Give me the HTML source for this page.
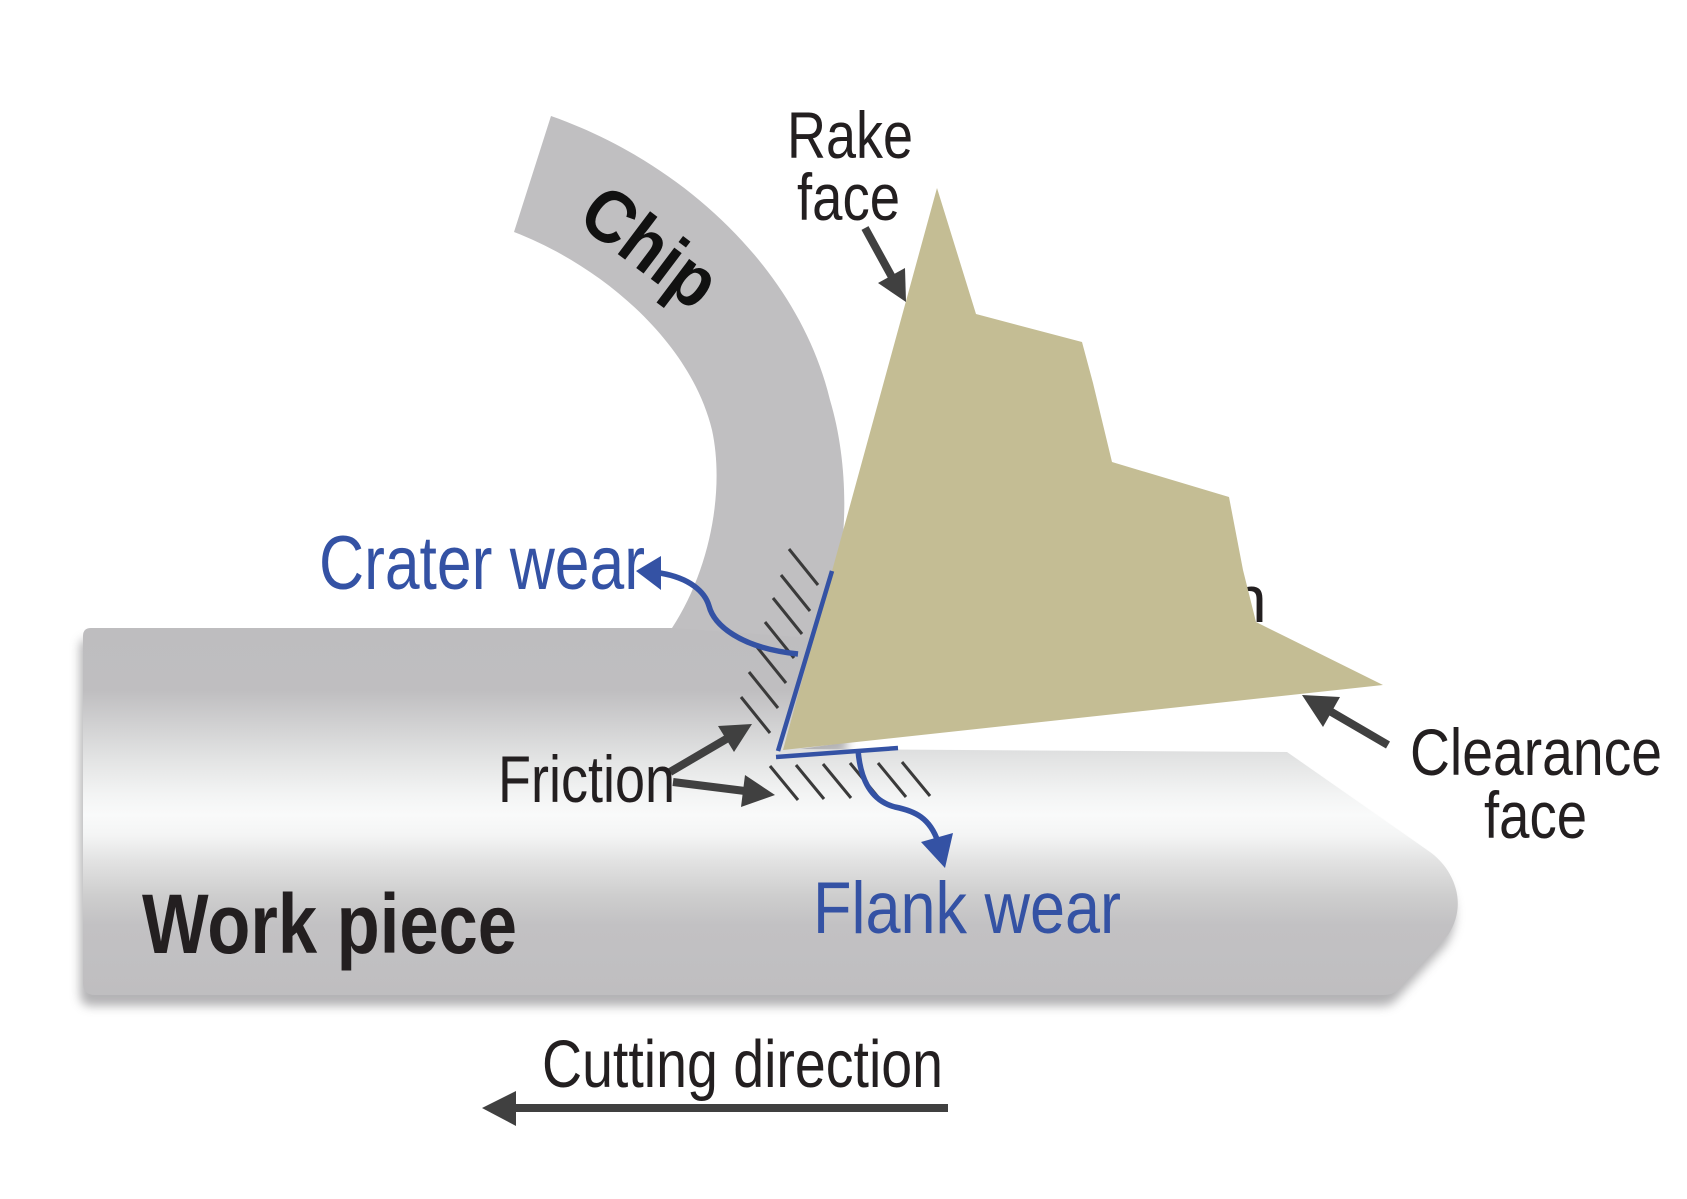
<!DOCTYPE html>
<html>
<head>
<meta charset="utf-8">
<style>
  html,body{margin:0;padding:0;background:#fff;}
  svg{display:block;}
  text{font-family:"Liberation Sans",Arial,sans-serif;}
</style>
</head>
<body>
<svg width="1687" height="1199" viewBox="0 0 1687 1199" xmlns="http://www.w3.org/2000/svg">
  <defs>
    <linearGradient id="wp" gradientUnits="userSpaceOnUse" x1="0" y1="628" x2="0" y2="995">
      <stop offset="0" stop-color="#bebdbf"/>
      <stop offset="0.17" stop-color="#bfbec0"/>
      <stop offset="0.27" stop-color="#d2d2d3"/>
      <stop offset="0.36" stop-color="#e3e4e4"/>
      <stop offset="0.455" stop-color="#f3f4f4"/>
      <stop offset="0.51" stop-color="#f9fafa"/>
      <stop offset="0.564" stop-color="#f4f5f5"/>
      <stop offset="0.632" stop-color="#e3e3e3"/>
      <stop offset="0.728" stop-color="#cecece"/>
      <stop offset="0.81" stop-color="#c2c1c3"/>
      <stop offset="1" stop-color="#bfbec0"/>
    </linearGradient>
    <filter id="blur" x="-10%" y="-10%" width="120%" height="130%">
      <feGaussianBlur stdDeviation="5"/>
    </filter>
  </defs>

  <!-- workpiece shadow -->
  <path d="M 83 636 Q 83 628 91 628 L 850 628 L 850 742 L 800 749 L 1287 752 L 1430 852 C 1455 870, 1468 905, 1448 935 L 1398 990 Q 1393 995 1383 995 L 95 995 Q 83 995 83 983 Z"
        fill="#a6a5a7" transform="translate(-3,11)" filter="url(#blur)" opacity="0.85"/>
  <!-- workpiece -->
  <path d="M 83 636 Q 83 628 91 628 L 850 628 L 850 742 L 800 749 L 1287 752 L 1430 852 C 1455 870, 1468 905, 1448 935 L 1398 990 Q 1393 995 1383 995 L 95 995 Q 83 995 83 983 Z"
        fill="url(#wp)"/>

  <!-- chip -->
  <path d="M 551 116 C 690 165, 800 275, 830 400 C 845 450, 848 510, 840 560 L 840 640 L 672 628 C 710 570, 725 490, 712 430 C 690 340, 600 265, 514 232 Z"
        fill="#c0bfc1"/>

  <!-- partially hidden n -->
  <text x="1230" y="622" font-size="66" fill="#231f20">n</text>

  <!-- tool -->
  <polygon points="937,188 976,314 1082,342 1093,383 1112,462 1229,497 1243,570 1256,622 1383,685 783,750"
           fill="#c4bd94"/>

  <!-- hatch rake side -->
  <g stroke="#3a3a3a" stroke-width="3" stroke-linecap="butt">
    <line x1="789" y1="549" x2="818" y2="585"/>
    <line x1="781" y1="575" x2="810" y2="611"/>
    <line x1="773" y1="598" x2="802" y2="634"/>
    <line x1="765" y1="622" x2="794" y2="658"/>
    <line x1="757" y1="647" x2="786" y2="683"/>
    <line x1="749" y1="672" x2="778" y2="708"/>
    <line x1="741" y1="697" x2="770" y2="733"/>
    <!-- flank side -->
    <line x1="770" y1="766" x2="798" y2="800"/>
    <line x1="796" y1="765" x2="824" y2="799"/>
    <line x1="823" y1="764" x2="851" y2="798"/>
    <line x1="850" y1="763" x2="878" y2="797"/>
    <line x1="878" y1="763" x2="906" y2="797"/>
    <line x1="902" y1="762" x2="930" y2="796"/>
  </g>

  <!-- blue wear lines -->
  <g stroke="#3452a4" fill="none">
    <line x1="832" y1="571" x2="778" y2="751" stroke-width="4.5"/>
    <line x1="776" y1="757" x2="898" y2="748" stroke-width="4.5"/>
    <path d="M 660 573 C 690 578, 705 592, 709 606 C 714 625, 740 648, 798 654" stroke-width="5.5"/>
    <path d="M 858 750 C 860 775, 868 800, 895 807 C 915 811, 930 818, 938 842" stroke-width="5.5"/>
  </g>
  <polygon points="636,571 661,556 661,590" fill="#3452a4"/>
  <polygon points="921,842 953,833 945,868" fill="#3452a4"/>

  <!-- dark arrows -->
  <g stroke="#404040" stroke-width="8" fill="none">
    <line x1="865" y1="228" x2="893" y2="279"/>
    <line x1="1388" y1="745" x2="1328" y2="710"/>
    <line x1="670" y1="772" x2="728" y2="738"/>
    <line x1="673" y1="782" x2="745" y2="791"/>
    <line x1="515" y1="1108" x2="948" y2="1108"/>
  </g>
  <polygon points="906,302 878,283 905,268" fill="#404040"/>
  <polygon points="1302,695 1340,697 1323,727" fill="#404040"/>
  <polygon points="752,724 718,726 734,752" fill="#404040"/>
  <polygon points="775,795 745,775 741,807" fill="#404040"/>
  <polygon points="482,1108 516,1091 516,1126" fill="#404040"/>

  <!-- labels -->
  <g fill="#231f20" font-size="66">
    <text x="787" y="158" textLength="126" lengthAdjust="spacingAndGlyphs">Rake</text>
    <text x="797" y="220" textLength="103" lengthAdjust="spacingAndGlyphs">face</text>
    <text x="498" y="802" textLength="177" lengthAdjust="spacingAndGlyphs">Friction</text>
    <text x="1410" y="775" textLength="252" lengthAdjust="spacingAndGlyphs">Clearance</text>
    <text x="1484" y="838" textLength="103" lengthAdjust="spacingAndGlyphs">face</text>
    <text x="542" y="1087" font-size="67" textLength="401" lengthAdjust="spacingAndGlyphs">Cutting direction</text>
  </g>
  <text x="142" y="953" font-size="84" font-weight="bold" fill="#231f20" textLength="375" lengthAdjust="spacingAndGlyphs">Work piece</text>
  <text x="0" y="0" transform="translate(635,267) rotate(37)" text-anchor="middle" font-size="74" font-weight="bold" fill="#111" textLength="150" lengthAdjust="spacingAndGlyphs">Chip</text>

  <g fill="#3452a4">
    <text x="319" y="589" font-size="76" textLength="326" lengthAdjust="spacingAndGlyphs">Crater wear</text>
    <text x="813" y="933" font-size="73" textLength="308" lengthAdjust="spacingAndGlyphs">Flank wear</text>
  </g>
</svg>
</body>
</html>
